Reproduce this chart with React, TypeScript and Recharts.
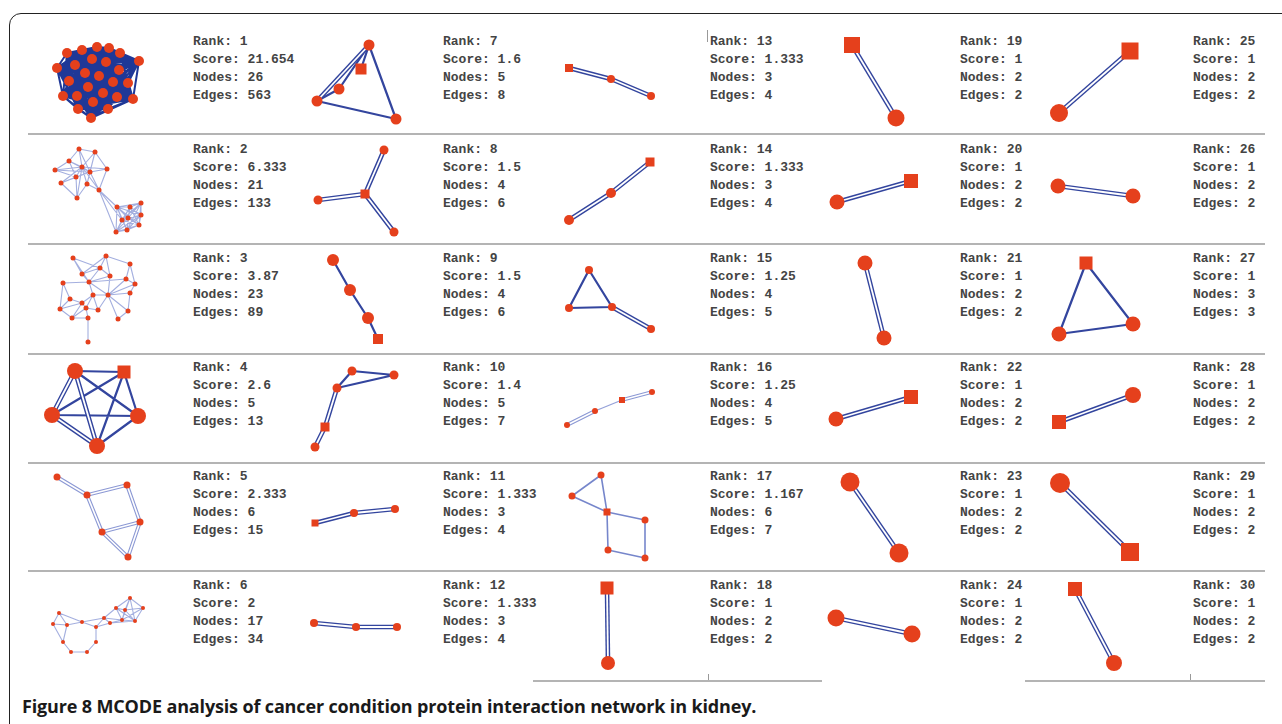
import React from 'react'
import { ComposedChart, Line, Scatter, XAxis, YAxis } from 'recharts'

// node: [x, y, seed] in cluster layout units (seed = 1 drawn as square)
// edge: [from, to, double] (double = 1 drawn as a paired edge)
type Node = [number, number, number?]
type Edge = [number, number, number?]

const ranks = [1, 2, 3, 4, 5, 6, 7, 8, 9, 10, 11, 12, 13, 14, 15, 16, 17, 18, 19, 20, 21, 22, 23, 24, 25, 26, 27, 28, 29, 30]
const scores = [21.654, 6.333, 3.87, 2.6, 2.333, 2, 1.6, 1.5, 1.5, 1.4, 1.333, 1.333, 1.333, 1.333, 1.25, 1.25, 1.167, 1, 1, 1, 1, 1, 1, 1, 1, 1, 1, 1, 1, 1]
const nodeCounts = [26, 21, 23, 5, 6, 17, 5, 4, 4, 5, 3, 3, 3, 3, 4, 4, 6, 2, 2, 2, 2, 2, 2, 2, 2, 2, 3, 2, 2, 2]
const edgeCounts = [563, 133, 89, 13, 15, 34, 8, 6, 6, 7, 4, 4, 4, 4, 5, 5, 7, 2, 2, 2, 2, 2, 2, 2, 2, 2, 3, 2, 2, 2]

const allPairs = (ids: number[]): Edge[] => {
  const out: Edge[] = []
  ids.forEach((a, i) => ids.slice(i + 1).forEach(b => out.push([a, b])))
  return out
}

const n1: Node[] = [[37, 29], [52, 26], [67, 23], [79, 24], [90, 29], [109, 37], [27, 44], [45, 41], [62, 35], [76, 38], [89, 46], [39, 57], [55, 49], [69, 52], [83, 58], [98, 59], [33, 72], [47, 72], [58, 63], [73, 69], [87, 73], [103, 75], [48, 85], [63, 78], [78, 85], [61, 94]]
const e1: Edge[] = allPairs(n1.map((_, i) => i))

const n2: Node[] = [[49, 15], [65, 18], [39, 27], [25, 36], [52, 33], [60, 38], [77, 35], [46, 43], [57, 50], [31, 49], [69, 56], [47, 64], [87, 73], [100, 73], [111, 69], [92, 86], [98, 84], [111, 81], [86, 98], [97, 96], [109, 91]]
const e2: Edge[] = [
  [4, 0], [4, 1], [4, 2], [4, 3], [4, 5], [4, 6], [4, 7], [4, 8], [4, 9], [4, 10], [4, 11],
  [5, 0], [5, 1], [5, 2], [5, 3], [5, 6], [5, 7], [5, 8], [5, 9], [5, 10],
  [0, 1], [0, 2], [1, 6], [2, 3], [7, 9], [7, 11], [8, 10], [9, 11], [6, 10], [2, 7], [3, 7], [8, 11],
  [10, 12], [10, 15], [10, 18],
  ...allPairs([12, 13, 14, 15, 16, 17, 18, 19, 20]),
]

const n3: Node[] = [[43, 14], [76, 12], [100, 20], [52, 30], [70, 24], [80, 32], [59, 38], [33, 39], [96, 35], [105, 40], [100, 49], [78, 51], [63, 51], [40, 55], [52, 59], [30, 65], [56, 64], [68, 66], [42, 74], [58, 74], [88, 75], [98, 67], [58, 98]]
const e3: Edge[] = [
  [0, 3], [0, 6], [3, 6], [4, 6], [1, 4], [1, 5], [1, 2], [2, 8], [2, 9], [8, 9], [9, 10], [10, 11],
  [4, 5], [5, 11], [6, 11], [11, 8], [11, 9], [11, 20], [11, 21], [7, 6], [7, 13], [7, 15], [13, 14],
  [14, 16], [15, 18], [13, 15], [16, 17], [14, 18], [18, 19], [19, 16], [19, 22], [12, 6], [12, 11],
  [12, 17], [17, 11], [3, 4], [5, 6], [6, 8], [20, 21], [21, 10], [1, 3], [0, 4], [16, 12], [14, 12], [15, 14], [18, 16],
]

const n4: Node[] = [[45, 18], [94, 19, 1], [22, 62], [108, 63], [67, 93]]
const e4: Edge[] = [[0, 1], [0, 2, 1], [0, 3], [0, 4, 1], [1, 2], [1, 3], [1, 4], [2, 3], [2, 4, 1], [3, 4]]

const n5: Node[] = [[27, 15], [57, 33], [97, 23], [110, 60], [72, 70], [98, 95]]
const e5: Edge[] = [[0, 1, 1], [1, 2, 1], [2, 3, 1], [1, 4, 1], [4, 3, 1], [4, 5, 1], [3, 5, 1]]

const n6: Node[] = [[29, 42], [23, 53], [37, 54], [52, 51], [66, 56], [66, 71], [57, 81], [41, 81], [33, 71], [74, 47], [86, 37], [100, 27], [113, 37], [105, 50], [92, 49], [80, 52], [95, 39]]
const e6: Edge[] = [
  [0, 1], [0, 2], [1, 2], [2, 3], [3, 4], [4, 5], [5, 6], [6, 7], [7, 8], [8, 2], [4, 9], [4, 15],
  [9, 10], [9, 15], [15, 14], [9, 14], [10, 11], [11, 12], [12, 13], [13, 14], [14, 10], [10, 16],
  [16, 11], [16, 13], [16, 14], [11, 13], [12, 16], [10, 13], [3, 9], [15, 13], [1, 8], [0, 3], [11, 14], [12, 14],
]

const n7: Node[] = [[74, 21], [66, 45, 1], [44, 65], [22, 77], [101, 95]]
const e7: Edge[] = [[3, 0, 1], [2, 0], [3, 2], [3, 4], [0, 4], [1, 0]]
const n8: Node[] = [[89, 16], [70, 60, 1], [23, 66], [99, 98]]
const e8: Edge[] = [[1, 0, 1], [1, 2, 1], [1, 3, 1]]
const n9: Node[] = [[38, 16], [55, 46], [73, 74], [83, 95, 1]]
const e9: Edge[] = [[0, 1], [1, 2], [2, 3]]
const n10: Node[] = [[57, 18], [99, 22], [42, 35], [30, 74, 1], [20, 94]]
const e10: Edge[] = [[0, 1], [2, 1], [0, 2], [2, 3, 1], [3, 4, 1]]
const n11: Node[] = [[20, 61, 1], [59, 51], [100, 47]]
const n12: Node[] = [[19, 52], [61, 56], [102, 56]]
const n13: Node[] = [[19, 44, 1], [61, 55], [101, 72]]
const n14: Node[] = [[19, 86], [61, 59], [100, 28, 1]]
const eChain: Edge[] = [[0, 1, 1], [1, 2, 1]]
const n15: Node[] = [[39, 26], [19, 64], [62, 63], [101, 85]]
const e15: Edge[] = [[0, 1], [0, 2], [1, 2], [2, 3, 1]]
const n16: Node[] = [[17, 72], [45, 58], [72, 47, 1], [102, 39]]
const e16: Edge[] = [[0, 1, 1], [1, 2], [2, 3, 1]]
const n17: Node[] = [[51, 13], [22, 34], [57, 50, 1], [95, 58], [58, 88], [95, 96]]
const e17: Edge[] = [[0, 1], [0, 2], [1, 2], [2, 3], [2, 4], [4, 5], [3, 5]]
const n18: Node[] = [[57, 17, 1], [58, 92]]
const n19: Node[] = [[37, 21, 1], [81, 94]]
const n20: Node[] = [[22, 68], [96, 47, 1]]
const n21: Node[] = [[50, 19], [69, 94]]
const n22: Node[] = [[21, 66], [96, 44, 1]]
const n23: Node[] = [[35, 20], [84, 91]]
const n24: Node[] = [[21, 47], [97, 63]]
const n25: Node[] = [[29, 89], [100, 27, 1]]
const n26: Node[] = [[28, 52], [103, 62]]
const n27: Node[] = [[56, 19, 1], [29, 90], [103, 80]]
const e27: Edge[] = [[0, 1], [0, 2], [1, 2]]
const n28: Node[] = [[29, 69, 1], [103, 42]]
const n29: Node[] = [[30, 21], [100, 90, 1]]
const n30: Node[] = [[45, 18, 1], [84, 92]]
const ePair: Edge[] = [[0, 1, 1]]

const clusterNodes = [n1, n2, n3, n4, n5, n6, n7, n8, n9, n10, n11, n12, n13, n14, n15, n16, n17, n18, n19, n20, n21, n22, n23, n24, n25, n26, n27, n28, n29, n30]
const clusterEdges = [e1, e2, e3, e4, e5, e6, e7, e8, e9, e10, eChain, eChain, eChain, eChain, e15, e16, e17, ePair, ePair, ePair, ePair, ePair, ePair, ePair, ePair, ePair, e27, ePair, ePair, ePair]

// ---- styling ----
const RED = '#e5401c'
type Tone = 'dense' | 'light' | 'pale' | 'mid' | 'dark'
const tones: Tone[] = ['dense', 'light', 'light', 'dark', 'pale', 'light', 'dark', 'dark', 'dark', 'dark', 'dark', 'dark', 'dark', 'dark', 'dark', 'pale', 'mid', 'dark', 'dark', 'dark', 'dark', 'dark', 'dark', 'dark', 'dark', 'dark', 'dark', 'dark', 'dark', 'dark']
const nodeR = [5, 2.5, 2.5, 8, 3.5, 2, 5.5, 4.5, 6, 4.5, 4, 4, 4, 5, 4, 3, 3.5, 7, 8.5, 7.5, 7.5, 7.5, 9.5, 8.5, 9, 7.5, 7.5, 8, 10, 8]
const seedSide = [10, 5, 5, 13, 7, 4, 11, 9, 10, 9, 7, 8, 8, 9, 8, 6, 7, 13, 16, 14, 14, 14, 18, 16, 17, 14, 13, 14, 18, 14]
const toneStyle: Record<Tone, { single: string; sw: number; op: number; dbl: string; dw: number; iw: number }> = {
  dense: { single: '#1f3897', sw: 2, op: 1, dbl: '#1f3897', dw: 4, iw: 1.5 },
  light: { single: '#5a6dc4', sw: 1.1, op: 0.55, dbl: '#8c9ad6', dw: 3.5, iw: 1.4 },
  pale: { single: '#8896d4', sw: 1.3, op: 0.9, dbl: '#8b98d4', dw: 3.8, iw: 1.6 },
  mid: { single: '#6f80c8', sw: 1.6, op: 0.95, dbl: '#6f80c8', dw: 3.8, iw: 1.6 },
  dark: { single: '#33459e', sw: 2.2, op: 1, dbl: '#33459e', dw: 4.6, iw: 1.8 },
}

const W = 135
const H = 109
const colX = [30, 295, 550, 815, 1030]
const rowTop = [24, 134, 244, 353, 462, 571]
const textX = [193, 443, 710, 960, 1193]
const textTop = [33, 141, 250, 359, 468, 577]
const sepY = [133, 243, 353, 462, 570]

function segments(nodes: Node[], edges: Edge[], dbl: boolean) {
  const out: { x: number; y: number | null }[] = []
  edges.filter(e => !!e[2] === dbl).forEach(([a, b]) => {
    out.push({ x: nodes[a][0], y: nodes[a][1] }, { x: nodes[b][0], y: nodes[b][1] }, { x: nodes[b][0], y: null })
  })
  return out
}

function Cluster({ i }: { i: number }) {
  const nodes = clusterNodes[i]
  const edges = clusterEdges[i]
  const st = toneStyle[tones[i]]
  const r = nodeR[i]
  const side = seedSide[i]
  const pts = nodes.map(([x, y, s]) => ({ x, y, s: s ? 1 : 0 }))
  const single = segments(nodes, edges, false)
  const dbl = segments(nodes, edges, true)
  const NodeShape = (p: any) =>
    p.payload.s ? (
      <rect x={p.cx - side / 2} y={p.cy - side / 2} width={side} height={side} fill={RED} />
    ) : (
      <circle cx={p.cx} cy={p.cy} r={r} fill={RED} />
    )
  return (
    <ComposedChart width={W} height={H} margin={{ top: 0, right: 0, bottom: 0, left: 0 }}>
      <XAxis type="number" dataKey="x" domain={[0, W]} hide allowDataOverflow />
      <YAxis type="number" dataKey="y" domain={[0, H]} hide reversed allowDataOverflow />
      {single.length > 0 && (
        <Line data={single} dataKey="y" stroke={st.single} strokeWidth={st.sw} strokeOpacity={st.op} dot={false} activeDot={false} isAnimationActive={false} connectNulls={false} />
      )}
      {dbl.length > 0 && (
        <Line data={dbl} dataKey="y" stroke={st.dbl} strokeWidth={st.dw} dot={false} activeDot={false} isAnimationActive={false} connectNulls={false} />
      )}
      {dbl.length > 0 && (
        <Line data={dbl} dataKey="y" stroke="#ffffff" strokeWidth={st.iw} dot={false} activeDot={false} isAnimationActive={false} connectNulls={false} />
      )}
      <Scatter data={pts} shape={NodeShape} isAnimationActive={false} />
    </ComposedChart>
  )
}

const mono: React.CSSProperties = {
  position: 'absolute',
  fontFamily: '"Liberation Mono", "DejaVu Sans Mono", monospace',
  fontSize: 13,
  lineHeight: '18px',
  color: '#444',
  fontWeight: 700,
  whiteSpace: 'pre',
}

export default function App() {
  const cells: React.ReactNode[] = []
  ranks.forEach((rank, i) => {
    const col = Math.floor(i / 6)
    const row = i % 6
    cells.push(
      <div key={'c' + rank} style={{ position: 'absolute', left: colX[col], top: rowTop[row], width: W, height: H }}>
        <Cluster i={i} />
      </div>
    )
    cells.push(
      <div key={'t' + rank} style={{ ...mono, left: textX[col], top: textTop[row] }}>
        {`Rank: ${rank}\nScore: ${scores[i]}\nNodes: ${nodeCounts[i]}\nEdges: ${edgeCounts[i]}`}
      </div>
    )
  })

  return (
    <div style={{ position: 'absolute', left: 0, top: 0, width: 1282, height: 724, background: '#fff', overflow: 'hidden' }}>
      <div style={{ position: 'absolute', left: 9, top: 13, width: 1300, height: 740, border: '1.5px solid #222', borderRadius: 12 }} />
      {sepY.map(y => (
        <div key={y} style={{ position: 'absolute', left: 28, top: y, width: 1237, height: 2, background: '#b4b4b4' }} />
      ))}
      <div style={{ position: 'absolute', left: 533, top: 680, width: 289, height: 2, background: '#b4b4b4' }} />
      <div style={{ position: 'absolute', left: 1025, top: 680, width: 240, height: 2, background: '#b4b4b4' }} />
      <div style={{ position: 'absolute', left: 708, top: 674, width: 1, height: 6, background: '#999' }} />
      <div style={{ position: 'absolute', left: 1190, top: 674, width: 1, height: 6, background: '#999' }} />
      <div style={{ position: 'absolute', left: 707, top: 30, width: 1, height: 12, background: '#999' }} />
      {cells}
      <div style={{ position: 'absolute', left: 22, top: 693, lineHeight: '26px', fontFamily: '"Open Sans", "Noto Sans", sans-serif', fontWeight: 700, fontSize: 18, color: '#1a1a1a', whiteSpace: 'nowrap', letterSpacing: -0.15 }}>
        Figure 8 MCODE analysis of cancer condition protein interaction network in kidney.
      </div>
    </div>
  )
}
